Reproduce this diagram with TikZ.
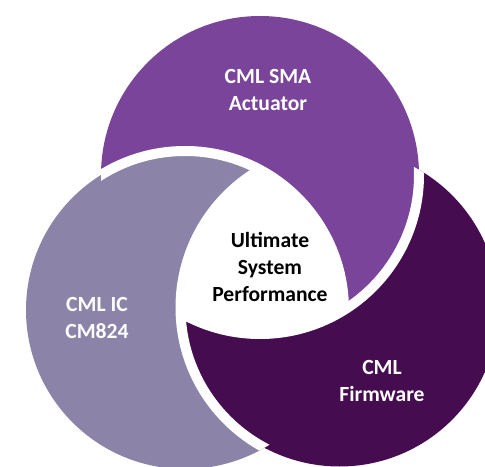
\documentclass[tikz,border=0pt]{standalone}
\usepackage{fontspec}
\setmainfont{Carlito}
\usepackage{tikz}

\definecolor{smapurple}{RGB}{122,68,154}
\definecolor{iclavender}{RGB}{139,132,168}
\definecolor{fwdark}{RGB}{69,12,79}

\begin{document}
\begin{tikzpicture}[line width = 0.2cm,
    lbl/.style = {align = center, font = \bfseries\fontsize{12.3}{15.3}\selectfont}]
\useasboundingbox (0,0) rectangle (9.7,9.32);
\def\crad{3.18}
\coordinate (p) at (5.20,5.82);
\coordinate (l) at (3.70,3.12);
\coordinate (d) at (6.79,3.17);
% fills: purple over dark, lavender over purple, dark over lavender
\fill[fwdark] (d) circle (\crad);
\fill[smapurple] (p) circle (\crad);
\fill[iclavender] (l) circle (\crad);
\begin{scope}
    \clip (l) circle (\crad + 0.05);
    \fill[fwdark] (d) circle (\crad);
\end{scope}
% white middle where all three meet
\begin{scope}
    \clip (p) circle (\crad);
    \clip (l) circle (\crad);
    \fill[white] (d) circle (\crad);
\end{scope}
% white gaps along the edges lying on top
\begin{scope}
    \clip (p) circle (\crad);
    \draw[white] (l) circle (\crad);
\end{scope}
\begin{scope}
    \clip (l) circle (\crad);
    \draw[white] (d) circle (\crad);
\end{scope}
\begin{scope}
    \clip (d) circle (\crad);
    \draw[white] (p) circle (\crad);
\end{scope}
% labels
\node[lbl, white] (sma) at (5.36,7.52) {CML SMA\\Actuator};
\node[lbl, white] (ic) at (1.94,2.96) {CML IC\\CM824};
\node[lbl, white] (fw) at (7.64,1.70) {CML\\Firmware};
\node[lbl, black] (usp) at (5.40,3.98) {Ultimate\\System\\Performance};
\end{tikzpicture}
\end{document}
